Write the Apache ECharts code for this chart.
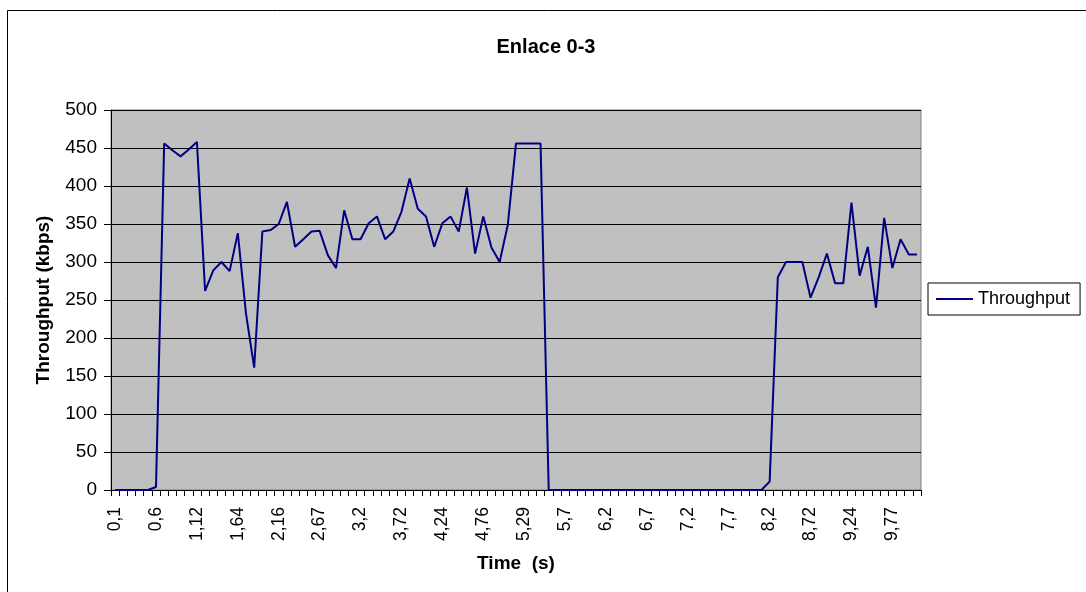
<!DOCTYPE html>
<html>
<head>
<meta charset="utf-8">
<title>Enlace 0-3</title>
<script src="https://cdn.jsdelivr.net/npm/echarts@6/dist/echarts.min.js"></script>
<style>
  html, body { margin: 0; padding: 0; background: #fff; }
  #myChart { width: 1086px; height: 592px; }
</style>
</head>
<body>
<div id="myChart"></div>
<script>
// tiempos (s), una categoria por muestra
var timeList = [
  '0,1', '0,2', '0,3', '0,4', '0,5', '0,6',
  '0,7', '0,8', '0,91', '1,02', '1,12',
  '1,22', '1,33', '1,43', '1,54', '1,64',
  '1,74', '1,85', '1,95', '2,06', '2,16',
  '2,26', '2,36', '2,47', '2,57', '2,67',
  '2,78', '2,88', '2,99', '3,09', '3,2',
  '3,3', '3,41', '3,51', '3,62', '3,72',
  '3,82', '3,93', '4,03', '4,14', '4,24',
  '4,34', '4,45', '4,55', '4,66', '4,76',
  '4,86', '4,97', '5,07', '5,18', '5,29',
  '5,37', '5,45', '5,53', '5,62', '5,7',
  '5,8', '5,9', '6', '6,1', '6,2',
  '6,3', '6,4', '6,5', '6,6', '6,7',
  '6,8', '6,9', '7', '7,1', '7,2',
  '7,3', '7,4', '7,5', '7,6', '7,7',
  '7,8', '7,9', '8', '8,1', '8,2',
  '8,3', '8,41', '8,51', '8,62', '8,72',
  '8,82', '8,93', '9,03', '9,14', '9,24',
  '9,35', '9,45', '9,56', '9,66', '9,77',
  '9,87', '9,98', '10,08'
]

// throughput (kbps)
var throughput = [
  0, 0, 0, 0, 0, 4,
  456, 447, 439, 448, 458,
  262, 289, 300, 288, 338,
  232, 161, 340, 342, 350,
  379, 320, 330, 340, 341,
  309, 292, 368, 330, 330,
  351, 360, 330, 340, 366,
  410, 370, 360, 320, 351,
  360, 340, 398, 311, 360,
  319, 300, 349, 456, 456,
  456, 456, 0, 0, 0,
  0, 0, 0, 0, 0,
  0, 0, 0, 0, 0,
  0, 0, 0, 0, 0,
  0, 0, 0, 0, 0,
  0, 0, 0, 0, 11,
  280, 300, 300, 300, 253,
  280, 311, 272, 272, 378,
  282, 320, 240, 358, 292,
  330, 310, 310
]

var yTicks = { min: 0, max: 500, step: 50 }

var font = 'Liberation Sans, Arial, sans-serif'

var myChart = echarts.init(document.getElementById('myChart'))
var option = {
  animation: false,
  backgroundColor: '#fff',
  textStyle: { fontFamily: font },
  title: {
    text: 'Enlace 0-3',
    left: 541,
    top: 32,
    textAlign: 'center',
    textStyle: { fontSize: 20, fontWeight: 'bold', color: '#000', fontFamily: font }
  },
  // marco exterior del grafico
  graphic: [
    {
      type: 'rect',
      left: 5,
      top: 8,
      shape: { width: 1200, height: 700 },
      style: { fill: 'none', stroke: '#000', lineWidth: 1 },
      silent: true
    }
  ],
  legend: {
    data: ['Throughput'],
    left: 928,
    top: 283,
    orient: 'vertical',
    icon: 'rect',
    backgroundColor: '#fff',
    borderColor: '#000',
    borderWidth: 1,
    borderRadius: 0,
    padding: [6, 10, 6, 8],
    itemWidth: 37,
    itemHeight: 2,
    textStyle: { fontSize: 18, color: '#000', fontFamily: font, lineHeight: 20 }
  },
  grid: {
    left: 111,
    right: 165,
    top: 110,
    bottom: 102,
    show: true,
    backgroundColor: '#c0c0c0',
    borderColor: '#808080',
    borderWidth: 1
  },
  xAxis: {
    type: 'category',
    data: timeList,
    boundaryGap: true,
    name: 'Time  (s)',
    nameLocation: 'middle',
    nameGap: 64,
    nameTextStyle: { fontSize: 19, fontWeight: 'bold', color: '#000', fontFamily: font },
    axisLine: { show: true, lineStyle: { color: '#000', width: 1 } },
    axisTick: { show: true, interval: 0, length: 6, lineStyle: { color: '#000' } },
    axisLabel: {
      interval: 4,
      rotate: 90,
      margin: 17,
      fontSize: 17.5,
      color: '#000',
      fontFamily: font
    },
    splitLine: { show: false }
  },
  yAxis: {
    type: 'value',
    min: yTicks.min,
    max: yTicks.max,
    interval: yTicks.step,
    name: 'Throughput (kbps)',
    nameLocation: 'middle',
    nameGap: 58,
    nameTextStyle: { fontSize: 19, fontWeight: 'bold', color: '#000', fontFamily: font },
    axisLine: { show: true, lineStyle: { color: '#000', width: 1 } },
    axisTick: { show: true, length: 7, lineStyle: { color: '#000' } },
    axisLabel: { margin: 14, fontSize: 19, color: '#000', fontFamily: font },
    splitLine: { show: true, lineStyle: { color: '#000', width: 1 } }
  },
  series: [
    {
      name: 'Throughput',
      type: 'line',
      data: throughput,
      symbol: 'none',
      color: '#000080',
      lineStyle: { color: '#000080', width: 2 }
    }
  ]
}
myChart.setOption(option)
window.addEventListener('resize', function () {
  myChart.resize()
})
</script>
</body>
</html>
